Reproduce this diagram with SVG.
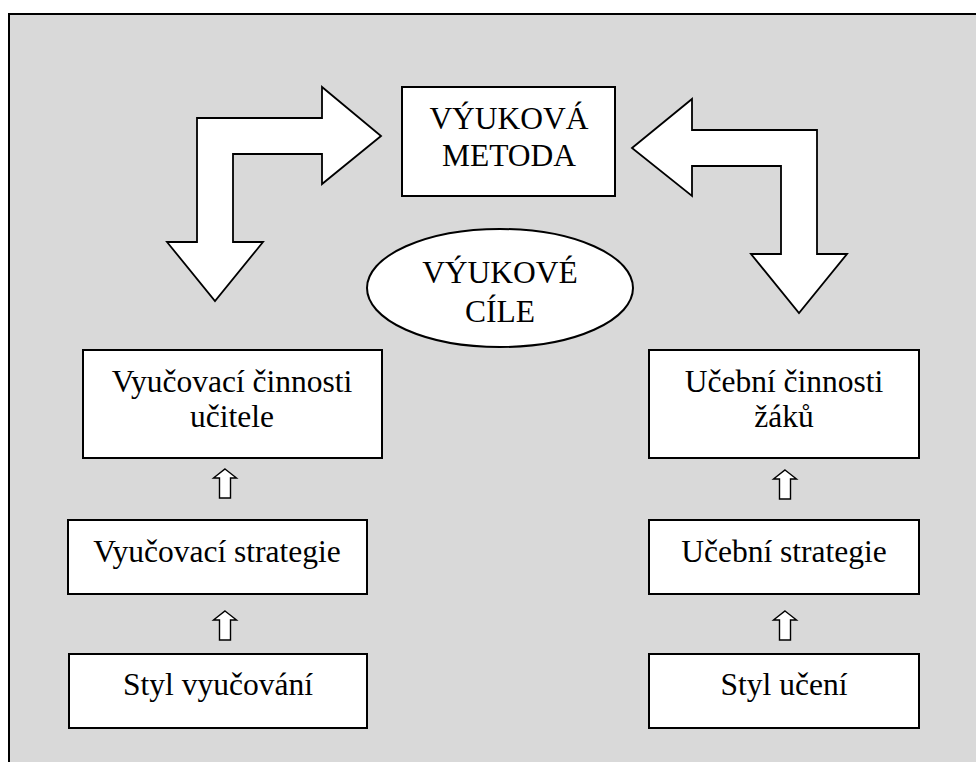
<svg xmlns="http://www.w3.org/2000/svg" xmlns:xlink="http://www.w3.org/1999/xlink" width="976" height="762" viewBox="0 0 976 762" font-family="'Liberation Serif', 'DejaVu Serif', serif">
<style>
.box{fill:#fff;stroke:#000;stroke-width:2}
.big{fill:#fff;stroke:#000;stroke-width:1.8;stroke-linejoin:miter}
.sm{fill:#fff;stroke:#000;stroke-width:1.4}
.t{font-family:'Liberation Serif','DejaVu Serif',serif;font-size:31.5px;fill:#000;text-anchor:middle}
</style>
<defs>
<path id="up" class="sm" d="M0,0 L11.5,9 L5.5,9 L5.5,29 L-5.5,29 L-5.5,9 L-11.5,9 Z"/>
</defs>
<rect width="976" height="762" fill="#fff"/>
<rect x="9" y="14" width="1000" height="800" fill="#d9d9d9" stroke="#000" stroke-width="2"/>
<g id="connectors">
<polygon class="big" points="381,136 322,184 322,154 233,154 233,242 263,242 215,301 167,242 197,242 197,118 322,118 322,87"/>
<polygon class="big" points="632,148 692,99 692,130 817,130 817,254 847,254 799,313 751,254 781,254 781,166 692,166 692,196"/>
<use xlink:href="#up" x="225" y="469"/>
<use xlink:href="#up" x="225" y="611"/>
<use xlink:href="#up" x="785" y="470"/>
<use xlink:href="#up" x="785" y="611"/>
</g>
<g id="metoda">
<rect class="box" x="402" y="87" width="213" height="109"/>
<text class="t" x="509" y="129">VÝUKOVÁ</text>
<text class="t" x="509" y="166">METODA</text>
</g>
<g id="cile">
<ellipse cx="500" cy="288" rx="133" ry="59" fill="#fff" stroke="#000" stroke-width="2"/>
<text class="t" x="500" y="283">VÝUKOVÉ</text>
<text class="t" x="500" y="322">CÍLE</text>
</g>
<g id="cinnosti-ucitele">
<rect class="box" x="83" y="350" width="299" height="108"/>
<text class="t" x="232" y="392">Vyučovací činnosti</text>
<text class="t" x="232" y="427">učitele</text>
</g>
<g id="vyucovaci-strategie">
<rect class="box" x="68" y="520" width="299" height="74"/>
<text class="t" x="217" y="562">Vyučovací strategie</text>
</g>
<g id="styl-vyucovani">
<rect class="box" x="69" y="654" width="298" height="74"/>
<text class="t" x="218" y="695">Styl vyučování</text>
</g>
<g id="cinnosti-zaku">
<rect class="box" x="649" y="350" width="270" height="108"/>
<text class="t" x="784" y="392">Učební činnosti</text>
<text class="t" x="784" y="427">žáků</text>
</g>
<g id="ucebni-strategie">
<rect class="box" x="649" y="520" width="270" height="74"/>
<text class="t" x="784" y="562">Učební strategie</text>
</g>
<g id="styl-uceni">
<rect class="box" x="649" y="654" width="270" height="74"/>
<text class="t" x="784" y="695">Styl učení</text>
</g>
</svg>
